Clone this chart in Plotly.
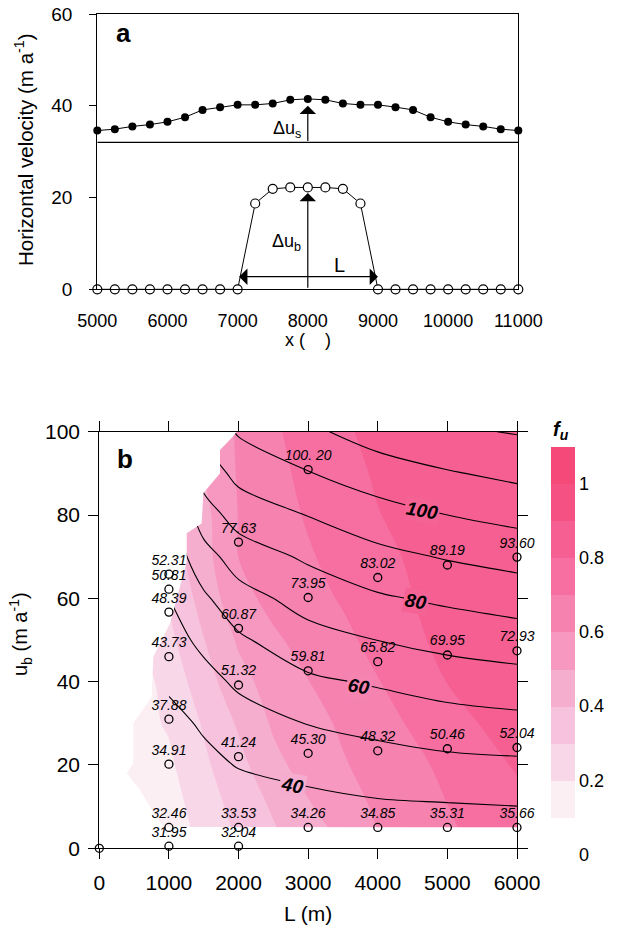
import bisect
import plotly.graph_objects as go

W, H = 624, 930
FONT = "Liberation Sans, Arial, sans-serif"

# ---------------- panel a data ----------------
x_pos = [5000, 5250, 5500, 5750, 6000, 6250, 6500, 6750, 7000, 7250, 7500, 7750, 8000,
         8250, 8500, 8750, 9000, 9250, 9500, 9750, 10000, 10250, 10500, 10750, 11000]
surface_vel = [34.6, 34.9, 35.5, 35.9, 36.5, 37.5, 39.1, 39.7, 40.2, 40.2, 40.5, 41.3, 41.5,
               41.3, 40.5, 40.2, 40.2, 39.7, 39.1, 37.5, 36.5, 35.9, 35.5, 34.9, 34.6]
basal_vel = [0, 0, 0, 0, 0, 0, 0, 0, 0, 18.7, 21.9, 22.2, 22.2,
             22.2, 21.9, 18.7, 0, 0, 0, 0, 0, 0, 0, 0, 0]
xa_ticks = [5000, 6000, 7000, 8000, 9000, 10000, 11000]
baseline_a = 32.0
du_s_top = 40.0
du_b_top = 21.0
L_arrow = [7000, 9000]
L_arrow_y = 2.75

# ---------------- panel b data ----------------
pt_L = [0,
        1000, 1000, 1000, 1000, 1000, 1000, 1000, 1000,
        2000, 2000, 2000, 2000, 2000, 2000,
        3000, 3000, 3000, 3000, 3000,
        4000, 4000, 4000, 4000,
        5000, 5000, 5000, 5000,
        6000, 6000, 6000, 6000]
pt_ub = [0,
         0.5, 5, 20.2, 31, 46, 56.7, 62.2, 65.8,
         0.5, 5, 22, 39.2, 52.8, 73.5,
         5, 22.8, 42.6, 60.2, 90.9,
         5, 23.4, 44.8, 65,
         5, 23.9, 46.4, 68,
         5, 24.2, 47.4, 69.9]
pt_text = ["",
           "31.95", "32.46", "34.91", "37.88", "43.73", "48.39", "50.81", "52.31",
           "32.04", "33.53", "41.24", "51.32", "60.87", "77.63",
           "34.26", "45.30", "59.81", "73.95", "100. 20",
           "34.85", "48.32", "65.82", "83.02",
           "35.31", "50.46", "69.95", "89.19",
           "35.66", "52.04", "72.93", "93.60"]

fu_L = [0, 1000, 1500, 2000, 2500, 3000, 3500, 4000, 5000, 6000]
fu_ub = [5, 10, 20, 30, 40, 50, 60, 70, 80, 90, 100]
fu_val = [
    [0.12, 0.146, 0.233, 0.318, 0.393, 0.460, 0.530, 0.603, 0.689, 0.763],
    [0.12, 0.156, 0.249, 0.335, 0.412, 0.490, 0.557, 0.614, 0.699, 0.771],
    [0.12, 0.183, 0.282, 0.369, 0.473, 0.540, 0.592, 0.636, 0.721, 0.810],
    [0.12, 0.210, 0.310, 0.412, 0.513, 0.564, 0.615, 0.663, 0.760, 0.850],
    [0.05, 0.238, 0.355, 0.467, 0.541, 0.598, 0.647, 0.696, 0.802, 0.850],
    [0.10, 0.276, 0.397, 0.513, 0.584, 0.635, 0.679, 0.728, 0.830, 0.860],
    [0.15, 0.312, 0.437, 0.567, 0.629, 0.668, 0.709, 0.757, 0.840, 0.870],
    [0.18, 0.350, 0.464, 0.601, 0.645, 0.690, 0.734, 0.779, 0.840, 0.870],
    [0.20, 0.380, 0.470, 0.603, 0.658, 0.710, 0.754, 0.797, 0.850, 0.880],
    [0.22, 0.400, 0.500, 0.609, 0.672, 0.726, 0.772, 0.810, 0.860, 0.880],
    [0.25, 0.420, 0.500, 0.615, 0.686, 0.740, 0.790, 0.820, 0.870, 0.890],
]

# surface velocity field (grid)
us_L = [1000, 1500, 2000, 3000, 4000, 5000, 6000]
us_ub = [5, 10, 20, 30, 40, 50, 60, 70, 80, 90, 100]
us_val = [
    [32.46, 33.0, 33.53, 34.26, 34.85, 35.31, 35.66],
    [33.3, 34.5, 36.0, 37.0, 38.6, 39.2, 39.9],
    [34.9, 38.0, 40.4, 43.3, 45.7, 47.4, 48.1],
    [37.6, 41.0, 45.3, 50.3, 53.0, 55.6, 57.1],
    [41.3, 46.5, 51.8, 58.2, 61.2, 64.4, 66.2],
    [45.8, 52.5, 58.5, 66.3, 70.1, 73.2, 75.3],
    [49.9, 58.5, 66.0, 74.0, 78.8, 81.8, 84.4],
    [53.5, 66.0, 74.8, 81.5, 87.2, 90.8, 93.6],
    [57.0, 75.5, 84.0, 90.3, 96.0, 100.0, 103.0],
    [61.0, 84.0, 93.0, 99.5, 105.2, 109.2, 112.3],
    [65.0, 92.0, 101.0, 108.0, 114.5, 118.5, 120.6],
]
us_levels = [40, 50, 60, 70, 80, 90, 100, 110, 120]
# labelled contour values and where they sit
lab_text = ["40", "60", "80", "100"]
lab_L = [2776, 3731, 4548, 4632]
lab_ub = [15.0, 38.8, 59.2, 81.0]

# blank (no-data) region outline on the left of the filled area
blank_L = [1974, 1900, 1734, 1734, 1494, 1471, 1256, 1256, 1016, 776, 753, 489, 489, 394, 585,
           728, 920, 6000, 6000, -300, -300, 1974]
blank_ub = [100, 98.5, 95.6, 90, 85.2, 78, 75.6, 68.8, 54, 46, 36.4, 30, 20.4, 18, 14,
            10, 5.1, 5, -5, -5, 105, 105]

# band colours: below 0, 0-0.1, 0.1-0.2, ..., 1.0-1.1, above
fu_colors = ["#ffffff", "#ffffff",
             "rgb(248,230,238)", "rgb(248,210,230)", "rgb(247,190,219)",
             "rgb(246,172,206)", "rgb(246,152,191)", "rgb(246,132,177)",
             "rgb(246,114,162)", "rgb(245,99,149)", "rgb(245,86,136)",
             "rgb(245,73,122)", "rgb(245,73,122)"]
cscale = [[i / (len(fu_colors) - 1), c] for i, c in enumerate(fu_colors)]


def px(x):
    return x / W


def py(y):
    return 1 - y / H


def band_color(L, u):
    # colour of the f_u band at (L, u), bilinear in the grid
    j = max(1, min(len(fu_L) - 1, bisect.bisect_left(fu_L, L)))
    i = max(1, min(len(fu_ub) - 1, bisect.bisect_left(fu_ub, u)))
    tx = (L - fu_L[j - 1]) / (fu_L[j] - fu_L[j - 1])
    ty = (u - fu_ub[i - 1]) / (fu_ub[i] - fu_ub[i - 1])
    v = ((1 - tx) * (1 - ty) * fu_val[i - 1][j - 1] + tx * (1 - ty) * fu_val[i - 1][j]
         + (1 - tx) * ty * fu_val[i][j - 1] + tx * ty * fu_val[i][j])
    k = int(v * 10 + 1e-9)
    return fu_colors[k + 1]


fig = go.Figure()

# ---------- panel a ----------
fig.add_trace(go.Scatter(x=x_pos, y=surface_vel, mode="lines+markers",
                         line=dict(color="black", width=1),
                         marker=dict(symbol="circle", size=8, color="black"),
                         xaxis="x", yaxis="y", cliponaxis=False, showlegend=False))
fig.add_trace(go.Scatter(x=x_pos, y=basal_vel, mode="lines+markers",
                         line=dict(color="black", width=1),
                         marker=dict(symbol="circle", size=9, color="white",
                                     line=dict(color="black", width=1.2)),
                         xaxis="x", yaxis="y", cliponaxis=False, showlegend=False))

# ---------- panel b ----------
fig.add_trace(go.Contour(x=fu_L, y=fu_ub, z=fu_val, xaxis="x2", yaxis="y2",
                         colorscale=cscale, zmin=0, zmax=1.1,
                         contours=dict(start=0, end=1.1, size=0.1, coloring="fill",
                                       showlines=False),
                         line=dict(width=0),
                         colorbar=dict(x=px(551), xanchor="left", thickness=24,
                                       thicknessmode="pixels", len=407.5, lenmode="pixels",
                                       y=py(446.5), yanchor="top", outlinewidth=0,
                                       xpad=0, ypad=0,
                                       tickvals=[0, 0.2, 0.4, 0.6, 0.8, 1.0],
                                       ticktext=["0", "0.2", "0.4", "0.6", "0.8", "1"],
                                       ticks="",
                                       tickfont=dict(family=FONT, size=18, color="black")),
                         hoverinfo="skip"))
for lev in us_levels:
    fig.add_trace(go.Contour(x=us_L, y=us_ub, z=us_val, xaxis="x2", yaxis="y2",
                             showscale=False,
                             contours=dict(start=lev, end=lev, size=10, coloring="none"),
                             line=dict(color="black", width=1.1), hoverinfo="skip"))
fig.add_trace(go.Scatter(x=blank_L, y=blank_ub, mode="lines", fill="toself",
                         fillcolor="white", line=dict(width=0, color="white"),
                         xaxis="x2", yaxis="y2", hoverinfo="skip", showlegend=False))
fig.add_trace(go.Scatter(x=pt_L, y=pt_ub, mode="markers+text", text=pt_text,
                         textposition="top center",
                         textfont=dict(family=FONT, size=14, color="black", style="italic"),
                         marker=dict(symbol="circle-open", size=8, color="black",
                                     line=dict(width=1.3)),
                         xaxis="x2", yaxis="y2", cliponaxis=False, showlegend=False))

axis_common = dict(showgrid=False, zeroline=False, linecolor="black", linewidth=1.2,
                   tickcolor="black")

fig.update_layout(
    width=W, height=H, margin=dict(l=0, r=0, t=0, b=0, autoexpand=False),
    paper_bgcolor="white", plot_bgcolor="white", showlegend=False,
    xaxis=dict(domain=[px(97.3), px(518.3)], range=[5000, 11000], anchor="y",
               showline=True, mirror=True, ticks="", tickvals=xa_ticks,
               ticktext=[str(v) for v in xa_ticks], ticklabelstandoff=15,
               tickfont=dict(family=FONT, size=18, color="black"), **axis_common),
    yaxis=dict(domain=[py(289.3), py(14)], range=[0, 60], anchor="x",
               showline=True, mirror=True, ticks="outside", ticklen=7, tickvals=[0, 20, 40, 60],
               ticklabelstandoff=13, tickfont=dict(family=FONT, size=19, color="black"),
               **axis_common),
    xaxis2=dict(domain=[px(99.3), px(517)], range=[0, 6000], anchor="y2",
                showline=True, mirror="ticks", ticks="outside", ticklen=10,
                tickvals=[0, 1000, 2000, 3000, 4000, 5000, 6000], ticklabelstandoff=5,
                tickfont=dict(family=FONT, size=21, color="black"), **axis_common),
    yaxis2=dict(domain=[py(848.3), py(431.7)], range=[0, 100], anchor="x2",
                showline=True, mirror="ticks", ticks="outside", ticklen=10,
                tickvals=[0, 20, 40, 60, 80, 100], ticklabelstandoff=4,
                tickfont=dict(family=FONT, size=21, color="black"), **axis_common),
)

ann = []
C = dict(xanchor="center", yanchor="middle")
# panel a annotations
ann.append(dict(x=8000, y=du_s_top, ax=8000, ay=baseline_a, xref="x", yref="y", axref="x", ayref="y",
                text="", showarrow=True, arrowhead=1, arrowsize=2.3, arrowwidth=1.2, arrowcolor="black"))
ann.append(dict(x=8000, y=du_b_top, ax=8000, ay=0, xref="x", yref="y", axref="x", ayref="y",
                text="", showarrow=True, arrowhead=1, arrowsize=2.3, arrowwidth=1.2, arrowcolor="black"))
ann.append(dict(x=L_arrow[1], y=L_arrow_y, ax=L_arrow[0], ay=L_arrow_y, xref="x", yref="y",
                axref="x", ayref="y", text="", showarrow=True, arrowhead=1, startarrowhead=1,
                arrowside="end+start", arrowsize=2.3, startarrowsize=2.3, arrowwidth=1.2,
                arrowcolor="black"))
txt_font = dict(family=FONT, size=18, color="black")
ann.append(dict(x=7703, y=34.9, xref="x", yref="y", text="\u0394u<sub>s</sub>", showarrow=False,
                font=txt_font, **C))
ann.append(dict(x=7703, y=10.1, xref="x", yref="y", text="\u0394u<sub>b</sub>", showarrow=False,
                font=txt_font, **C))
ann.append(dict(x=8456, y=5.3, xref="x", yref="y", text="L", showarrow=False,
                font=dict(family=FONT, size=20, color="black"), **C))
ann.append(dict(x=5373, y=55.9, xref="x", yref="y", text="<b>a</b>", showarrow=False,
                font=dict(family=FONT, size=26, color="black"), **C))
ann.append(dict(x=px(24), y=py(150), xref="paper", yref="paper",
                text="Horizontal velocity (m a<sup>-1</sup>)",
                textangle=-90, showarrow=False, font=dict(family=FONT, size=20.5, color="black"), **C))
ann.append(dict(x=px(308), y=py(340), xref="paper", yref="paper", text="x (    )",
                showarrow=False, font=dict(family=FONT, size=18, color="black"), **C))
# panel b annotations
ann.append(dict(x=369, y=93.4, xref="x2", yref="y2", text="<b>b</b>", showarrow=False,
                font=dict(family=FONT, size=26, color="black"), **C))
for t, lx, ly in zip(lab_text, lab_L, lab_ub):
    ann.append(dict(x=lx, y=ly, xref="x2", yref="y2", text="<b><i>" + t + "</i></b>",
                    showarrow=False, textangle=10, bgcolor=band_color(lx, ly), borderpad=1,
                    font=dict(family=FONT, size=19, color="black"), **C))
ann.append(dict(x=px(308), y=py(913), xref="paper", yref="paper", text="L (m)",
                showarrow=False, font=dict(family=FONT, size=21, color="black"), **C))
ann.append(dict(x=px(20), y=py(634), xref="paper", yref="paper", text="u<sub>b</sub> (m a<sup>-1</sup>)",
                textangle=-90, showarrow=False, font=dict(family=FONT, size=20, color="black"), **C))
ann.append(dict(x=px(561), y=py(430), xref="paper", yref="paper", text="<b><i>f<sub>u</sub></i></b>",
                showarrow=False, font=dict(family=FONT, size=20, color="black"), **C))
fig.update_layout(annotations=ann)

fig.add_shape(type="line", x0=5000, x1=11000, y0=baseline_a, y1=baseline_a, xref="x", yref="y",
              line=dict(color="black", width=1.2))

fig.write_html("out.html")
